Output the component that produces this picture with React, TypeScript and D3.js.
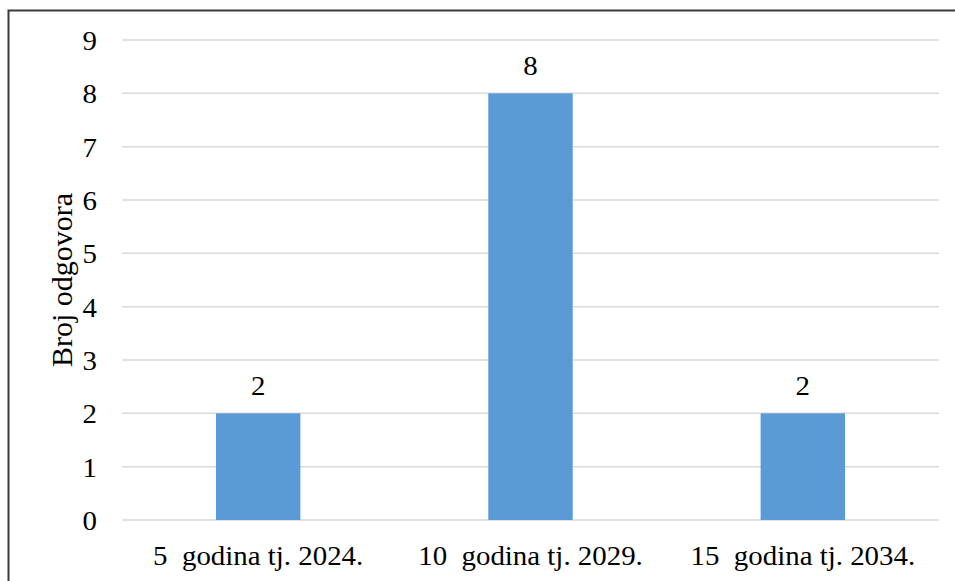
import React from "react";
import * as d3 from "d3";

const categories = ["5  godina tj. 2024.", "10  godina tj. 2029.", "15  godina tj. 2034."];
const values = [2, 8, 2];
const yTicks = [0, 1, 2, 3, 4, 5, 6, 7, 8, 9];
const yTitle = "Broj odgovora";

const FAMILY = '"Liberation Serif", "Times New Roman", serif';
// text is drawn at double size and scaled down
const K = 2;

function T(props: { x: number; y: number; size: number; sx?: number; rotate?: number; anchor?: string; children: React.ReactNode }) {
  const { x, y, size, sx = 1, rotate = 0, anchor = "middle", children } = props;
  return (
    <text
      transform={`translate(${x},${y}) rotate(${rotate}) scale(${sx / K},${1 / K})`}
      fontFamily={FAMILY}
      fontSize={size * K}
      textAnchor={anchor}
      fill="#000"
      xmlSpace="preserve"
      style={{ whiteSpace: "pre" }}
    >
      {children}
    </text>
  );
}

export default function App() {
  const W = 955, H = 581;
  const left = 122, right = 939, top = 40, bottom = 520;
  const x = d3.scaleBand<string>().domain(categories).range([left, right]).paddingInner(0.69).paddingOuter(0.345);
  const y = d3.scaleLinear().domain([0, 9]).range([bottom, top]);
  const fs = 27, sx = 1.07;
  return (
    <div style={{ position: "absolute", left: 0, top: 0, width: W, height: H }}>
      <svg width={W} height={H} style={{ display: "block", background: "#fff" }}>
        <rect x={0} y={0} width={W} height={H} fill="#fff" />
        <path d={`M8.5,${H} V10.5 H${W}`} fill="none" stroke="#3a3a3a" strokeWidth={2} />
        {yTicks.map((t) => (
          <g key={t}>
            <line x1={left} x2={right} y1={y(t)} y2={y(t)} stroke="#d9d9d9" strokeWidth={1.5} />
            <T x={97} y={y(t) + 10} size={fs} sx={sx} anchor="end">{String(t)}</T>
          </g>
        ))}
        {categories.map((c, i) => {
          const cx = (x(c) as number) + x.bandwidth() / 2;
          return (
            <g key={c}>
              <rect x={x(c)} y={y(values[i])} width={x.bandwidth()} height={y(0) - y(values[i])} fill="#5B9BD5" />
              <T x={cx} y={y(values[i]) - 18.5} size={fs} sx={sx}>{String(values[i])}</T>
              <T x={cx} y={565} size={fs} sx={sx}>{c}</T>
            </g>
          );
        })}
        <T x={72} y={(top + bottom) / 2} size={30} rotate={-90}>{yTitle}</T>
      </svg>
    </div>
  );
}
